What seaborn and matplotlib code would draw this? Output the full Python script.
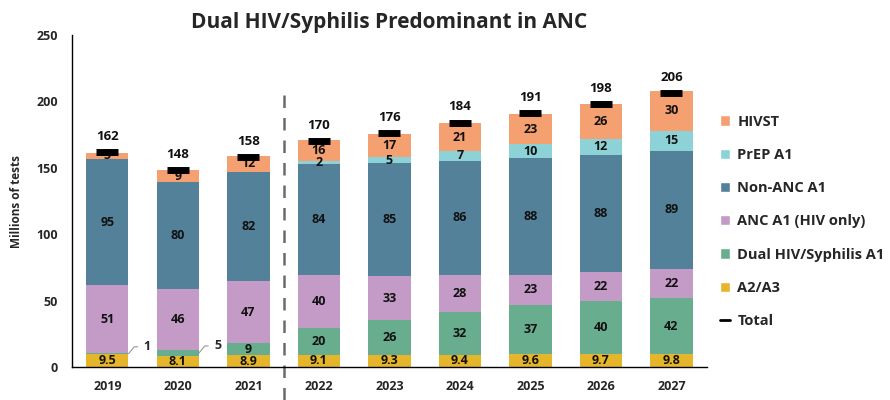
import numpy as np
import pandas as pd
import seaborn as sns
import matplotlib.pyplot as plt
from matplotlib.patches import Patch
from matplotlib.lines import Line2D

years = ['2019', '2020', '2021', '2022', '2023', '2024', '2025', '2026', '2027']
a2_a3 = [9.5, 8.1, 8.9, 9.1, 9.3, 9.4, 9.6, 9.7, 9.8]
dual_a1 = [1, 5, 9, 20, 26, 32, 37, 40, 42]
anc_a1 = [51, 46, 47, 40, 33, 28, 23, 22, 22]
non_anc_a1 = [95, 80, 82, 84, 85, 86, 88, 88, 89]
prep_a1 = [0, 0, 0, 2, 5, 7, 10, 12, 15]
hivst = [5, 9, 12, 16, 17, 21, 23, 26, 30]
totals = [162, 148, 158, 170, 176, 184, 191, 198, 206]

# bottom to top
layers = [
    ('A2/A3', a2_a3, '#E5B52B'),
    ('Dual HIV/Syphilis A1', dual_a1, '#68AD8E'),
    ('ANC A1 (HIV only)', anc_a1, '#C49AC6'),
    ('Non-ANC A1', non_anc_a1, '#53819A'),
    ('PrEP A1', prep_a1, '#8CD2D6'),
    ('HIVST', hivst, '#F4A070'),
]

sns.set_style('white')
plt.rcParams['font.family'] = ['Open Sans', 'DejaVu Sans']
plt.rcParams['font.weight'] = 'bold'

fig = plt.figure(figsize=(8.9, 4), dpi=100)
ax = fig.add_axes([0.081, 0.0825, 0.713, 0.83])

bar_w = 0.6
bottom = np.zeros(len(years))
for name, vals, col in layers:
    vals = np.array(vals, dtype=float)
    sns.barplot(x=years, y=vals, bottom=bottom, color=col, width=bar_w,
                saturation=1, ax=ax, linewidth=0)
    for i, v in enumerate(vals):
        if v == 0:
            continue
        txt = f'{v:g}'
        if name == 'Dual HIV/Syphilis A1' and v < 6:
            # small segments get a label outside with a leader line
            ax.annotate(txt, xy=(i + bar_w / 2, bottom[i] + v / 2),
                        xytext=(11, 5), textcoords='offset points',
                        fontsize=9, fontweight='bold', va='center', ha='left',
                        arrowprops=dict(arrowstyle='-', color='#999999', lw=0.8,
                                        shrinkA=2, shrinkB=0,
                                        connectionstyle='angle,angleA=0,angleB=50,rad=0'))
        else:
            ax.text(i, bottom[i] + v / 2, txt, ha='center', va='center',
                    fontsize=9, fontweight='bold', color='#111111')
    bottom += vals

sns.scatterplot(x=np.arange(len(years)), y=totals, marker='_', s=230,
                linewidth=5, color='black', ax=ax, legend=False, zorder=5)
for i, t in enumerate(totals):
    ax.text(i, t + 7, str(t), ha='center', va='bottom', fontsize=9.5,
            fontweight='bold', color='#111111')

ax.axvline(2.5, ymin=-0.1, ymax=0.83, color='#6b6b6b', lw=1.8,
           ls=(0, (5, 4)), clip_on=False)

ax.set_xlim(-0.5, 8.5)
ax.set_ylim(0, 250)
ax.set_yticks(range(0, 251, 50))
ax.set_xlabel('')
ax.set_ylabel('Millions of tests', fontsize=8.5, fontweight='bold', labelpad=10)
ax.tick_params(axis='both', length=0, labelsize=9, pad=10)
ax.tick_params(axis='x', pad=9)
for lab in ax.get_xticklabels() + ax.get_yticklabels():
    lab.set_fontweight('bold')
sns.despine(ax=ax, top=True, right=True)
for s in ['left', 'bottom']:
    ax.spines[s].set_color('black')
    ax.spines[s].set_linewidth(1)

ax.set_title('Dual HIV/Syphilis Predominant in ANC', fontsize=15,
             fontweight='bold', pad=5)

handles = [Patch(facecolor=c, label=n) for n, _, c in layers[::-1]]
handles.append(Line2D([0], [0], color='black', lw=2, label='Total'))
ax.legend(handles=handles, loc='upper left', bbox_to_anchor=(1.0, 0.8),
          frameon=False, handlelength=0.7, handleheight=0.7,
          handletextpad=0.5, labelspacing=1.32, prop={'weight': 'bold', 'size': 10.5})

fig.savefig('out.png', dpi=100)
